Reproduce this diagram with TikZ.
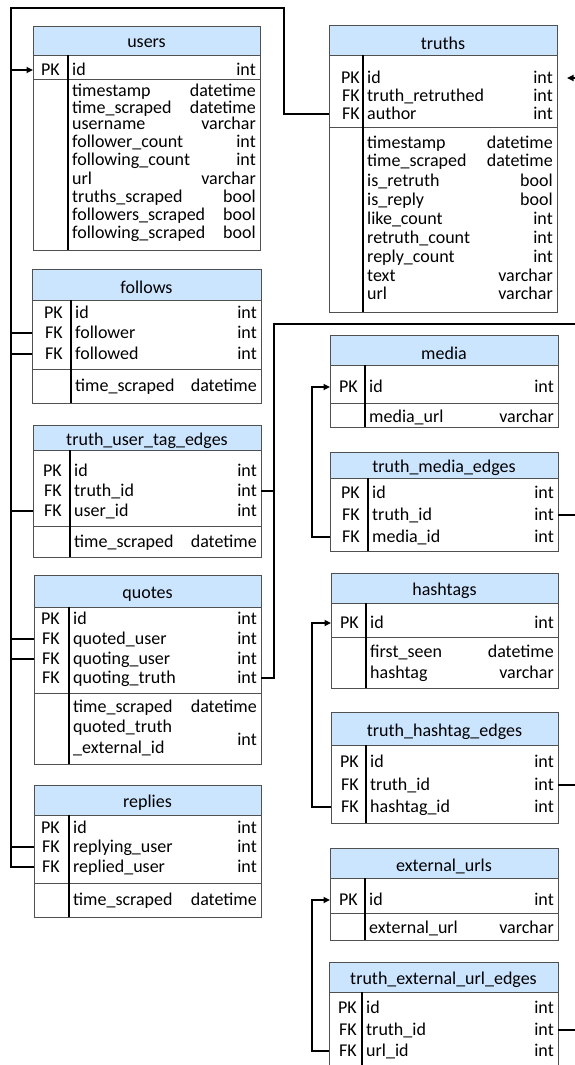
\documentclass[tikz,border=0pt]{standalone}
\usepackage{fontspec}
\setmainfont{Carlito}
\usetikzlibrary{arrows.meta}

\definecolor{hdrblue}{RGB}{204,229,255}
\definecolor{edgegray}{RGB}{80,80,80}

% column geometry of the table being drawn: left, divider, right, key gap
\newcommand\setcols[4]{\def\colL{#1}\def\colD{#2}\def\colR{#3}\def\colK{#4}}

% table frame: name, left, right, top, header bottom, key bottom, bottom, divider, title
\newcommand\erbox[9]{%
  \fill[white] (#2,#4) rectangle (#3,#7);
  \fill[hdrblue] (#2,#4) rectangle (#3,#5);
  \draw[tbox] (#2,#4) rectangle (#3,#5);
  \draw[tbox] (#2,#5) rectangle (#3,#7);
  \draw[tsep] (#2,#6) -- (#3,#6);
  \draw[tdiv] (#8,#5) -- (#8,#7);
  \node[ttitle] (#1) at ({(#2+#3)/2},{(#4+#5)/2}) {#9};
}

% key row: name, y, key, field, type
\newcommand\erkey[5]{%
  \node[tkey] (#1-k) at (\colD-\colK,#2) {#3};
  \node[tfield] (#1-n) at (\colD+4,#2) {#4};
  \node[ttype] (#1-t) at (\colR-4,#2) {#5};
  \coordinate (#1-L) at (\colL,#2);
  \coordinate (#1-R) at (\colR,#2);
}

% plain attribute row: name, y, field, type
\newcommand\erattr[4]{%
  \node[tfield] (#1-n) at (\colD+4,#2) {#3};
  \node[ttype] (#1-t) at (\colR-4,#2) {#4};
}

\tikzset{
  tbox/.style={draw=edgegray, line width=0.9pt},
  tsep/.style={draw=edgegray, line width=0.9pt},
  tdiv/.style={draw=black, line width=1.8pt},
  ttext/.style={inner sep=0pt, yshift=-3pt, font=\fontsize{18}{20}\selectfont},
  ttitle/.style={ttext},
  tkey/.style={ttext, anchor=mid east},
  tfield/.style={ttext, anchor=mid west},
  ttype/.style={ttext, anchor=mid east},
  link/.style={draw=black, line width=2.6pt},
  linkarrow/.style={link, -{Triangle[length=6.5pt,width=6pt]}},
}

\begin{document}
\begin{tikzpicture}[x=1pt,y=-1pt]
\useasboundingbox (0,0) rectangle (575,1065);
\clip (0,0) rectangle (575,1065);
\fill[white] (0,0) rectangle (575,1065);

% ---------------- left column ----------------
\erbox{users}{33}{260}{26}{55}{79}{250}{68}{users}
\setcols{33}{68}{260}{8}
\erkey{users-id}{70}{PK}{id}{int}
\erattr{users-ts}{91}{timestamp}{datetime}
\erattr{users-tsc}{108}{time\_scraped}{datetime}
\erattr{users-un}{124}{username}{varchar}
\erattr{users-frc}{142}{follower\_count}{int}
\erattr{users-fgc}{160}{following\_count}{int}
\erattr{users-url}{179}{url}{varchar}
\erattr{users-trs}{197}{truths\_scraped}{bool}
\erattr{users-frs}{215}{followers\_scraped}{bool}
\erattr{users-fgs}{233}{following\_scraped}{bool}

\erbox{follows}{32}{261}{269}{300}{369}{403}{71}{follows}
\setcols{32}{71}{261}{8}
\erkey{follows-id}{313}{PK}{id}{int}
\erkey{follows-follower}{333}{FK}{follower}{int}
\erkey{follows-followed}{354}{FK}{followed}{int}
\erattr{follows-tsc}{386}{time\_scraped}{datetime}

\erbox{tute}{33}{261}{425}{450}{526}{557}{70}{truth\_user\_tag\_edges}
\setcols{33}{70}{261}{8}
\erkey{tute-id}{471}{PK}{id}{int}
\erkey{tute-truth}{491}{FK}{truth\_id}{int}
\erkey{tute-user}{511}{FK}{user\_id}{int}
\erattr{tute-tsc}{542}{time\_scraped}{datetime}

\erbox{quotes}{34}{261}{575}{607}{693}{764}{69}{quotes}
\setcols{34}{69}{261}{9}
\erkey{quotes-id}{619}{PK}{id}{int}
\erkey{quotes-quser}{639}{FK}{quoted\_user}{int}
\erkey{quotes-quoting}{659}{FK}{quoting\_user}{int}
\erkey{quotes-qtruth}{678}{FK}{quoting\_truth}{int}
\erattr{quotes-tsc}{707}{time\_scraped}{datetime}
\node[tfield] (quotes-ext-a) at (73,727) {quoted\_truth};
\node[tfield] (quotes-ext-b) at (73,748) {\_external\_id};
\node[ttype] (quotes-ext-t) at (257,740) {int};

\erbox{replies}{34}{261}{785}{815}{883}{917}{69}{replies}
\setcols{34}{69}{261}{9}
\erkey{replies-id}{828}{PK}{id}{int}
\erkey{replies-replying}{847}{FK}{replying\_user}{int}
\erkey{replies-replied}{867}{FK}{replied\_user}{int}
\erattr{replies-tsc}{900}{time\_scraped}{datetime}

% ---------------- right column ----------------
\erbox{truths}{329}{557}{25}{55}{127}{312}{363}{truths}
\setcols{329}{363}{557}{3}
\erkey{truths-id}{78}{PK}{id}{int}
\erkey{truths-rt}{96}{FK}{truth\_retruthed}{int}
\erkey{truths-author}{114}{FK}{author}{int}
\erattr{truths-ts}{143}{timestamp}{datetime}
\erattr{truths-tsc}{161}{time\_scraped}{datetime}
\erattr{truths-isrt}{181}{is\_retruth}{bool}
\erattr{truths-isrp}{200}{is\_reply}{bool}
\erattr{truths-lc}{219}{like\_count}{int}
\erattr{truths-rtc}{238}{retruth\_count}{int}
\erattr{truths-rpc}{257}{reply\_count}{int}
\erattr{truths-text}{276}{text}{varchar}
\erattr{truths-url}{294}{url}{varchar}

\erbox{media}{330}{558}{335}{365}{403}{427}{365}{media}
\setcols{330}{365}{558}{7}
\erkey{media-id}{387}{PK}{id}{int}
\erattr{media-url}{417}{media\_url}{varchar}

\erbox{tme}{330}{558}{452}{478}{551}{551}{368}{truth\_media\_edges}
\setcols{330}{368}{558}{8}
\erkey{tme-id}{493}{PK}{id}{int}
\erkey{tme-truth}{515}{FK}{truth\_id}{int}
\erkey{tme-media}{537}{FK}{media\_id}{int}

\erbox{hashtags}{331}{558}{573}{603}{637}{688}{366}{hashtags}
\setcols{331}{366}{558}{7}
\erkey{hashtags-id}{623}{PK}{id}{int}
\erattr{hashtags-fs}{652}{first\_seen}{datetime}
\erattr{hashtags-tag}{673}{hashtag}{varchar}

\erbox{the}{331}{558}{712}{745}{823}{823}{366}{truth\_hashtag\_edges}
\setcols{331}{366}{558}{7}
\erkey{the-id}{762}{PK}{id}{int}
\erkey{the-truth}{785}{FK}{truth\_id}{int}
\erkey{the-tag}{807}{FK}{hashtag\_id}{int}

\erbox{ext}{330}{558}{848}{878}{913}{940}{365}{external\_urls}
\setcols{330}{365}{558}{7}
\erkey{ext-id}{900}{PK}{id}{int}
\erattr{ext-url}{928}{external\_url}{varchar}

\erbox{teue}{329}{558}{962}{992}{1085}{1085}{362}{truth\_external\_url\_edges}
\setcols{329}{362}{558}{5}
\erkey{teue-id}{1008}{PK}{id}{int}
\erkey{teue-truth}{1030}{FK}{truth\_id}{int}
\erkey{teue-url}{1051}{FK}{url\_id}{int}

% ---------------- connectors ----------------
% bus lines
\coordinate (lbus) at (11,8);      % left user bus, top corner
\coordinate (tbus) at (284,8);     % top bend towards truths.author
\coordinate (mbus) at (312,0);     % right column lookup bus
\coordinate (ibus) at (274,324);   % inner truth bus, top corner
\coordinate (rbus) at (590,0);     % outer truth bus

% users.id references
\draw[link] (truths-author-L) -- (truths-author-L -| tbus) -- (tbus) -- (lbus)
  -- (lbus |- replies-replied-L) -- (replies-replied-L);
\draw[linkarrow] (lbus |- users-id-L) -- (users-id-L);
\draw[link] (lbus |- follows-follower-L) -- (follows-follower-L);
\draw[link] (lbus |- follows-followed-L) -- (follows-followed-L);
\draw[link] (lbus |- tute-user-L) -- (tute-user-L);
\draw[link] (lbus |- quotes-quser-L) -- (quotes-quser-L);
\draw[link] (lbus |- quotes-quoting-L) -- (quotes-quoting-L);
\draw[link] (lbus |- replies-replying-L) -- (replies-replying-L);

% truths.id references
\draw[linkarrow, shorten >=10pt] (rbus |- truths-id-R) -- (truths-id-R);
\draw[link] (tute-truth-R) -- (tute-truth-R -| ibus) -- (ibus |- quotes-qtruth-R) -- (quotes-qtruth-R);
\draw[link] (ibus |- tute-truth-R) -- (ibus) -- (ibus -| rbus);
\draw[link] (tme-truth-R) -- (tme-truth-R -| rbus);
\draw[link] (the-truth-R) -- (the-truth-R -| rbus);
\draw[link] (teue-truth-R) -- (teue-truth-R -| rbus);
\draw[link] (rbus |- truths-id-R) -- (rbus |- teue-truth-R);

% lookup tables
\draw[linkarrow] (tme-media-L) -- (tme-media-L -| mbus) -- (mbus |- media-id-L) -- (media-id-L);
\draw[linkarrow] (the-tag-L) -- (the-tag-L -| mbus) -- (mbus |- hashtags-id-L) -- (hashtags-id-L);
\draw[linkarrow] (teue-url-L) -- (teue-url-L -| mbus) -- (mbus |- ext-id-L) -- (ext-id-L);
\end{tikzpicture}
\end{document}
